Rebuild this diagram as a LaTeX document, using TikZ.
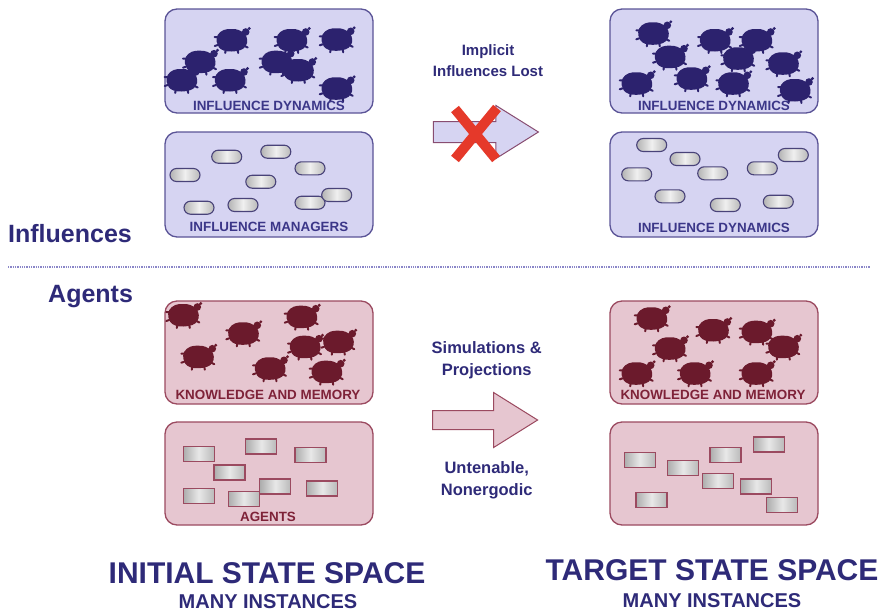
\documentclass[tikz,border=0pt]{standalone}
\usepackage{fontspec}
\setmainfont{Liberation Sans}
\usepackage{tikz}
\usetikzlibrary{positioning,shapes.arrows}
\definecolor{navy}{HTML}{2E2A78}
\definecolor{inflfill}{HTML}{D6D4F2}
\definecolor{inflline}{HTML}{5B5497}
\definecolor{inflbug}{HTML}{2C226E}
\definecolor{infltext}{HTML}{3B3688}
\definecolor{agtfill}{HTML}{E6C6D0}
\definecolor{agtline}{HTML}{9B4A60}
\definecolor{agtbug}{HTML}{6B1A2C}
\definecolor{agttext}{HTML}{7E2238}
\definecolor{xred}{HTML}{E5392A}
\definecolor{dotblue}{HTML}{8A86C8}

\tikzset{
  panel/.style={rectangle, rounded corners=12pt, minimum width=208pt, minimum height=104pt, line width=1.3pt},
  inflbox/.style={panel, fill=inflfill, draw=inflline},
  agtbox/.style={panel, fill=agtfill, draw=agtline},
  boxlabel/.style={font=\fontsize{13.4}{13.4}\selectfont\bfseries, inner sep=0pt, anchor=base},
  pill/.style={rectangle, rounded corners=6.5pt, minimum width=30pt, minimum height=13pt, inner sep=0pt,
    draw=inflline!80!black, line width=1.1pt, left color=gray!60, right color=gray!55, middle color=gray!12},
  card/.style={rectangle, minimum width=31pt, minimum height=15pt, inner sep=0pt,
    draw=agtline, line width=1.2pt, left color=gray!65, right color=gray!55, middle color=gray!18},
  bigarrow/.style={single arrow, minimum height=105pt, inner xsep=0pt, text height=0pt, text depth=0pt,
    single arrow tip angle=64, line width=1pt},
  midtext/.style={font=\fontsize{#1}{21.5}\selectfont\bfseries, text=navy, align=center, inner sep=0pt, anchor=base},
  headtext/.style={font=\fontsize{#1}{#1}\selectfont\bfseries, text=navy, inner sep=0pt},
  bug/.pic={
    \fill plot[smooth cycle, tension=0.7] coordinates {(-15,2) (-14,-5) (-8,-10) (0,-11) (7,-10) (13,-6)
      (15.5,0) (14,6) (9,10) (0,11.5) (-8,10.5) (-13,7)};
    \fill (14,-8) circle (3.8);
    \fill (17.5,-11.5) circle (1.6);
    \draw[line width=2pt, line cap=round] (-14,5) -- (-17,6) (-6,10) -- (-6.5,13) (6,10) -- (6.5,13)
      (13,6) -- (16,7.5) (-14,-3) -- (-17,-3);
  }
}

\begin{document}
\begin{tikzpicture}[x=1pt,y=-1pt]
  \useasboundingbox (0,0) rectangle (881,614);

  % panels
  \node[inflbox] (dynL) at (269,61) {};
  \node[inflbox, minimum height=105pt] (mgrL) at (269,184.5) {};
  \node[inflbox] (dynR) at (714,61) {};
  \node[inflbox, minimum height=105pt] (mgrR) at (714,184.5) {};
  \node[agtbox, minimum height=103pt] (memL) at (269,352.5) {};
  \node[agtbox, minimum height=103pt] (agtL) at (269,473.5) {};
  \node[agtbox, minimum height=103pt] (memR) at (714,352.5) {};
  \node[agtbox, minimum height=103pt] (agtR) at (714,473.5) {};

  % influence dynamics
  \foreach \x/\y in {231.7/40, 200/61.7, 181.7/80, 230/80, 291.7/40, 336.7/39.3, 276.7/61.7, 298.3/70, 336.7/88.3}
    \pic[color=inflbug] at (\x,\y) {bug};
  \foreach \x/\y in {653.3/33.3, 715/40, 756.7/40, 670/56.7, 738.3/58.3, 783.3/63.3, 636.7/83.3, 691.7/78.3, 733.3/83.3, 795/90}
    \pic[color=inflbug] at (\x,\y) {bug};

  % influence managers
  \foreach \x/\y [count=\i] in {226.7/156.7, 275.8/151.7, 185/175, 310/168.3, 260.8/181.7, 199/207.7, 243/205, 310/202.7, 336.7/195}
    \node[pill] (pL\i) at (\x,\y) {};
  \foreach \x/\y [count=\i] in {651.7/145, 685/159, 636.7/174.3, 712.7/173.3, 762.3/168.3, 793.3/155, 670/196.3, 725.3/205, 778.3/201.7}
    \node[pill] (pR\i) at (\x,\y) {};

  % knowledge and memory
  \foreach \x/\y in {183.3/315, 243.3/333.3, 301.7/316.7, 198.3/356.7, 305/346.7, 338.3/341.7, 270/368.3, 326.7/371.7}
    \pic[color=agtbug] at (\x,\y) {bug};
  \foreach \x/\y in {651.7/318.3, 713.3/330, 756.7/331.7, 670/348.3, 783.3/346.7, 636.7/373.3, 695/373.3, 756.7/373.3}
    \pic[color=agtbug] at (\x,\y) {bug};

  % agents
  \foreach \x/\y [count=\i] in {198.7/454.2, 261.3/446.5, 310.5/455.2, 229.5/472.5, 198.7/495.8, 275.3/486.5, 243.8/499.2, 322.2/488.5}
    \node[card] (aL\i) at (\x,\y) {};
  \foreach \x/\y [count=\i] in {639.7/460.2, 683/467.8, 725.5/454.8, 768.7/444.5, 717.7/480.8, 756.3/486.5, 651.5/499.8, 782.2/505.2}
    \node[card] (aR\i) at (\x,\y) {};

  % panel labels
  \node[boxlabel, text=infltext] (dynLlbl) at (269,110) {INFLUENCE DYNAMICS};
  \node[boxlabel, text=infltext] (mgrLlbl) at (269,231.7) {INFLUENCE MANAGERS};
  \node[boxlabel, text=infltext] (dynRlbl) at (714,110) {INFLUENCE DYNAMICS};
  \node[boxlabel, text=infltext] (mgrRlbl) at (714,232) {INFLUENCE DYNAMICS};
  \node[boxlabel, text=agttext] (memLlbl) at (268,399) {KNOWLEDGE AND MEMORY};
  \node[boxlabel, text=agttext] (agtLlbl) at (268,521.7) {AGENTS};
  \node[boxlabel, text=agttext] (memRlbl) at (713,399) {KNOWLEDGE AND MEMORY};

  % middle arrows
  \node[bigarrow, fill=inflfill, draw=agtline!70!inflline, inner ysep=10pt, single arrow head extend=16pt] (lostarr) at (477.5,132) {};
  \draw[xred, line width=10pt] (455,109) -- (496,159) (497,108) -- (455,159);
  \node[bigarrow, fill=agtfill, draw=agtline, inner ysep=9pt, single arrow head extend=18pt] (simarr) at (477.5,420) {};

  % the base anchor sits on the last line
  \node[midtext=15] (lostlbl) at (488,76.7) {Implicit\\Influences Lost};
  \node[midtext=16.5] (simlbl) at (486.7,375) {Simulations \&\\Projections};
  \node[midtext=16.5] (untlbl) at (486.7,495) {Untenable,\\Nonergodic};

  % section headings
  \node[headtext=25, anchor=base west] (inflhead) at (8,242) {Influences};
  \node[headtext=25, anchor=base west] (agthead) at (48,302.3) {Agents};
  \draw[dotblue, line width=1.3pt, dash pattern=on 1.3pt off 1pt] (8,267) -- (870,267);

  % state space titles
  \node[headtext=30, anchor=base] (inittitle) at (267,583) {INITIAL STATE SPACE};
  \node[headtext=20, anchor=base] (initsub) at (268,608) {MANY INSTANCES};
  \node[headtext=30, anchor=base] (targtitle) at (712,580) {TARGET STATE SPACE};
  \node[headtext=20, anchor=base] (targsub) at (712,607) {MANY INSTANCES};
\end{tikzpicture}
\end{document}
